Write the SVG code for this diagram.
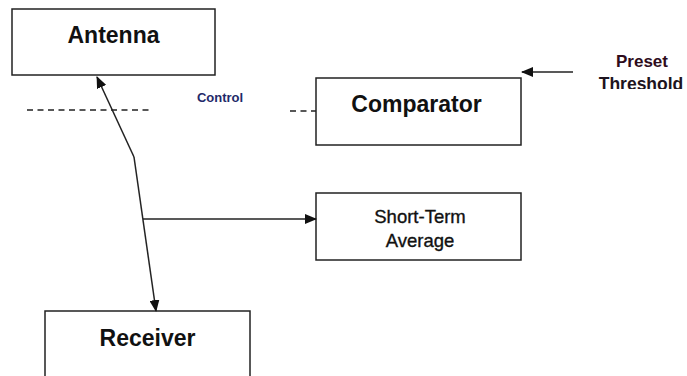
<svg xmlns="http://www.w3.org/2000/svg" width="687" height="376" viewBox="0 0 687 376">
<style>
.box{fill:#fff;stroke:#222;stroke-width:1.5}
.t{font-family:"Liberation Sans",Arial,sans-serif;text-anchor:middle;fill:#111}
.big{font-size:23px;font-weight:bold}
.mid{font-size:18.5px;stroke:#111;stroke-width:0.35}
.line{fill:none;stroke:#222;stroke-width:1.5}
.dash{fill:none;stroke:#222;stroke-width:1.3;stroke-dasharray:6 4.5}
</style>
<defs>
<marker id="ah" markerWidth="12" markerHeight="10" refX="11" refY="5" orient="auto" markerUnits="userSpaceOnUse">
<path d="M0,0 L12,5 L0,10 Z" fill="#111"/>
</marker>
<clipPath id="clipT"><rect x="580" y="70" width="107" height="19"/></clipPath>
</defs>
<rect width="687" height="376" fill="#fff"/>
<g id="antenna">
<rect class="box" x="12" y="9" width="203" height="66"/>
<text class="t big" x="113.5" y="43">Antenna</text>
</g>
<g id="comparator">
<rect class="box" x="316" y="78" width="205" height="67"/>
<text class="t big" x="416.5" y="112">Comparator</text>
</g>
<g id="shortterm">
<rect class="box" x="316" y="193" width="205" height="67"/>
<text class="t mid" x="420" y="223">Short-Term</text>
<text class="t mid" x="420" y="247">Average</text>
</g>
<g id="receiver">
<rect class="box" x="45" y="311" width="205" height="80"/>
<text class="t big" x="147.5" y="346">Receiver</text>
</g>
<g id="control">
<text class="t" x="220" y="102" style="font-size:13px;font-weight:bold;fill:#1f2a6a">Control</text>
</g>
<g id="preset">
<text class="t" x="642" y="67" style="font-size:17px;font-weight:bold;fill:#2e0c1c">Preset</text>
<text class="t" x="641" y="89.5" clip-path="url(#clipT)" style="font-size:17.5px;font-weight:bold;fill:#1e1420">Threshold</text>
</g>
<g id="connectors">
<line class="dash" x1="27" y1="110" x2="153" y2="110"/>
<line class="dash" x1="290" y1="111" x2="316" y2="111"/>
<polyline class="line" points="134,157 97,77" marker-end="url(#ah)"/>
<polyline class="line" points="134,157 156,311" marker-end="url(#ah)"/>
<line class="line" x1="143" y1="219" x2="316" y2="219" marker-end="url(#ah)"/>
<line class="line" x1="573" y1="72" x2="522" y2="72" marker-end="url(#ah)"/>
</g>
</svg>
